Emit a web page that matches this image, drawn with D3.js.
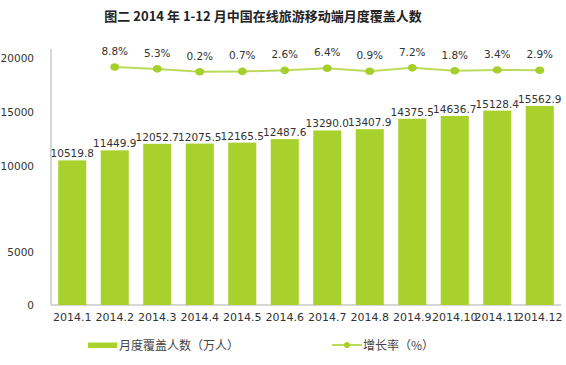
<!DOCTYPE html>
<html>
<head>
<meta charset='utf-8'>
<script src='https://d3js.org/d3.v7.min.js'></script>
<style>
  body { margin: 0; background: #fff; }
  svg text { font-family: "DejaVu Sans", sans-serif; fill: #333; }
</style>
</head>
<body>
<div id='chart'></div>
<script>
    // data
    var months = ['2014.1','2014.2','2014.3','2014.4','2014.5','2014.6','2014.7','2014.8','2014.9','2014.10','2014.11','2014.12'];
    var users = [10519.8, 11449.9, 12052.7, 12075.5, 12165.5, 12487.6, 13290.0, 13407.9, 14375.5, 14636.7, 15128.4, 15562.9];
    var growth = [null, 8.8, 5.3, 0.2, 0.7, 2.6, 6.4, 0.9, 7.2, 1.8, 3.4, 2.9];
    var yTicks = [0, 5000, 10000, 15000, 20000];

    var barColor = '#a8d12d';
    var lineColor = '#bcdb5c';
    var dotColor = '#a6cf2b';

    var svg = d3.select('#chart').append('svg')
        .attr('width', 566)
        .attr('height', 365);

    svg.append('text')
        .attr('x', 263).attr('y', 21)
        .attr('text-anchor', 'middle')
        .style('font-family', '"Noto Sans CJK SC", sans-serif')
        .style('font-weight', 'bold')
        .style('font-size', '13px')
        .style('fill', '#222')
        .text('图二 2014 年 1-12 月中国在线旅游移动端月度覆盖人数');

    var x = d3.scaleBand()
        .domain(months)
        .range([51, 561])
        .paddingInner(0.34)
        .paddingOuter(0.17);

    // the original axis is not evenly spaced, so the scale is piecewise
    var y = d3.scaleLinear()
        .domain([0, 5000, 10000, 20000])
        .range([305, 252, 166, 58]);

    var yRate = d3.scaleLinear()
        .domain([0, 10])
        .range([71.8, 66.3]);

    // axes
    svg.append('line')
        .attr('x1', 51).attr('x2', 51)
        .attr('y1', 49).attr('y2', 305)
        .attr('stroke', '#c8c8c8').attr('stroke-width', 1.5);
    svg.append('line')
        .attr('x1', 51).attr('x2', 561)
        .attr('y1', 305).attr('y2', 305)
        .attr('stroke', '#c8c8c8').attr('stroke-width', 1.5);

    svg.selectAll('.ytick')
        .data(yTicks)
        .enter().append('text')
        .attr('class', 'ytick')
        .attr('x', 34)
        .attr('y', d => y(d) + 4)
        .attr('text-anchor', 'end')
        .style('font-size', '10.5px')
        .text(d => d);

    svg.selectAll('.xtick')
        .data(months)
        .enter().append('text')
        .attr('class', 'xtick')
        .attr('x', d => x(d) + x.bandwidth() / 2)
        .attr('y', 321)
        .attr('text-anchor', 'middle')
        .style('font-size', '11px')
        .text(d => d);

    // bars
    svg.selectAll('.bar')
        .data(users)
        .enter().append('rect')
        .attr('class', 'bar')
        .attr('x', (d, i) => x(months[i]))
        .attr('width', x.bandwidth())
        .attr('y', d => y(d))
        .attr('height', d => 305 - y(d))
        .attr('fill', barColor);

    svg.selectAll('.barlabel')
        .data(users)
        .enter().append('text')
        .attr('class', 'barlabel')
        .attr('x', (d, i) => x(months[i]) + x.bandwidth() / 2)
        .attr('y', d => y(d) - 3)
        .attr('text-anchor', 'middle')
        .style('font-size', '10.5px')
        .text(d => d.toFixed(1));

    // growth line
    var pts = growth.map((g, i) => ({m: months[i], g: g})).filter(d => d.g !== null);
    var line = d3.line()
        .x(d => x(d.m) + x.bandwidth() / 2)
        .y(d => yRate(d.g));

    svg.append('path')
        .datum(pts)
        .attr('d', line)
        .attr('fill', 'none')
        .attr('stroke', lineColor)
        .attr('stroke-width', 2);

    svg.selectAll('.dot')
        .data(pts)
        .enter().append('ellipse')
        .attr('class', 'dot')
        .attr('cx', d => x(d.m) + x.bandwidth() / 2)
        .attr('cy', d => yRate(d.g))
        .attr('rx', 4.5).attr('ry', 3.8)
        .attr('fill', dotColor);

    svg.selectAll('.ratelabel')
        .data(pts)
        .enter().append('text')
        .attr('class', 'ratelabel')
        .attr('x', d => x(d.m) + x.bandwidth() / 2)
        .attr('y', d => yRate(d.g) - 12)
        .attr('text-anchor', 'middle')
        .style('font-size', '10.5px')
        .text(d => d.g.toFixed(1) + '%');

    // legend
    var lg = svg.append('g').style('font-family', '"Noto Sans CJK SC", sans-serif');
    lg.append('rect')
        .attr('x', 88).attr('y', 342.5)
        .attr('width', 29).attr('height', 5.5)
        .attr('fill', barColor);
    lg.append('text')
        .attr('x', 119).attr('y', 349.5)
        .style('font-family', '"Noto Sans CJK SC", sans-serif')
        .style('font-size', '12px')
        .style('fill', '#444')
        .text('月度覆盖人数（万人）');
    lg.append('line')
        .attr('x1', 332).attr('x2', 362)
        .attr('y1', 345).attr('y2', 345)
        .attr('stroke', lineColor).attr('stroke-width', 2);
    lg.append('circle')
        .attr('cx', 347).attr('cy', 345).attr('r', 3)
        .attr('fill', dotColor);
    lg.append('text')
        .attr('x', 363).attr('y', 349.5)
        .style('font-family', '"Noto Sans CJK SC", sans-serif')
        .style('font-size', '12px')
        .style('fill', '#444')
        .text('增长率（%）');
</script>
</body>
</html>
